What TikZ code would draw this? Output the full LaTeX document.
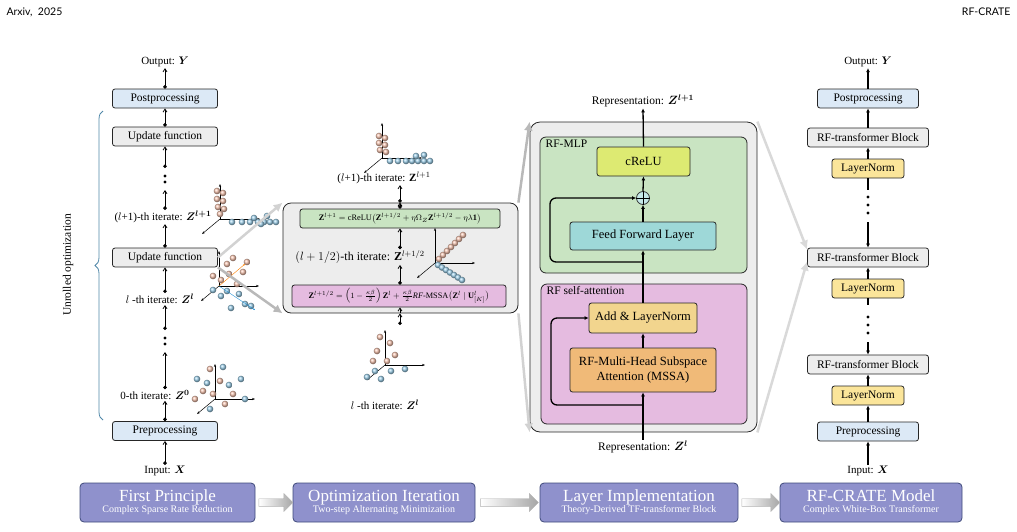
\documentclass[tikz,border=0pt]{standalone}
\usepackage{fontspec}
\usepackage{amsmath,amssymb,bm}
\setmainfont{Liberation Serif}
\newfontfamily\hdr{Lato}
\usetikzlibrary{arrows.meta,calc,decorations.pathreplacing,shapes.arrows,shadings}
\definecolor{bluebox}{HTML}{DCE9F6}
\definecolor{graybox}{HTML}{EDEDED}
\definecolor{greenb}{HTML}{C9E4C2}
\definecolor{pinkb}{HTML}{E5BBE0}
\definecolor{creluc}{HTML}{DDEA72}
\definecolor{ffc}{HTML}{9ED8D8}
\definecolor{addc}{HTML}{F2D58E}
\definecolor{mssac}{HTML}{F0BA78}
\definecolor{lnc}{HTML}{FBE59A}
\definecolor{purp}{HTML}{8F91CC}
\definecolor{purpd}{HTML}{3F4A7A}
\definecolor{orb}{HTML}{F4B49A}
\definecolor{blb}{HTML}{9CCFEA}
\definecolor{bracec}{HTML}{4F87A8}
\tikzset{
 box/.style={draw=black!85,line width=0.8pt,rounded corners=2.5pt,inner sep=0pt,font=\fontsize{11.5}{12}\selectfont},
 lbl/.style={font=\fontsize{11}{12}\selectfont,inner sep=1pt},
 arr/.style={-{Straight Barb[length=3pt,width=4pt]},line width=0.8pt},
 dotarr/.style={{Circle[length=3.5pt]}-{Straight Barb[length=3pt,width=4pt]},line width=0.8pt},
 thk/.style={-{Latex[length=4pt,width=4pt]},line width=1.3pt},
 big/.style={draw=purpd,line width=0.8pt,fill=purp,rounded corners=4pt,text=white,align=center,inner sep=0pt},
 garr/.style={-{Latex[length=9pt,width=9pt]},line width=2.5pt,draw=gray!70},
 fat/.style={single arrow,draw=gray!60,left color=white,right color=gray!70,minimum height=26pt,minimum width=18pt,single arrow head extend=3pt,inner sep=2pt},
}
\newcommand{\myaxes}{%
 \draw[-{Stealth[length=3pt]},line width=0.5pt] (0,0) -- (40,0);
 \draw[-{Stealth[length=3pt]},line width=0.5pt] (0,0) -- (0,-35);
 \draw[-{Stealth[length=3pt]},line width=0.5pt] (0,0) -- (-18,15);}
\newcommand{\ob}[2]{\shade[ball color=orb!80] (#1,#2) circle (3.3);}
\newcommand{\bb}[2]{\shade[ball color=blb] (#1,#2) circle (3.3);}
\begin{document}
\begin{tikzpicture}[x=1pt,y=-1pt]
\useasboundingbox (0,0) rectangle (1017,531);
\node[font=\hdr\fontsize{10.5}{11}\selectfont,anchor=west] (hl) at (3,12) {Arxiv, \ 2025};
\node[font=\hdr\fontsize{10.5}{11}\selectfont,anchor=east] (hr) at (1014,12) {RF-CRATE};

% ---------- left column
\node[lbl] (lout) at (165,62) {Output: $\bm{Y}$};
\node[box,fill=bluebox,minimum width=105,minimum height=19] (lpost) at (165,98.5) {Postprocessing};
\node[box,fill=graybox,minimum width=105,minimum height=19] (lup1) at (165,136.5) {Update function};
\node[lbl] (lit1) at (163,217) {($l$+1)-th iterate: $\bm{Z^{l+1}}$};
\node[box,fill=graybox,minimum width=105,minimum height=19] (lup2) at (165,257.5) {Update function};
\node[lbl] (lit2) at (160,299) {$l$ -th iterate: $\bm{Z^{l}}$};
\node[lbl] (lit0) at (155,395) {0-th iterate: $\bm{Z^{0}}$};
\node[box,fill=bluebox,minimum width=105,minimum height=19] (lpre) at (165,431) {Preprocessing};
\node[lbl] (lin) at (165,471) {Input: $\bm{X}$};
\coordinate (d1a) at (165,168); \coordinate (d1b) at (165,190);
\coordinate (d2a) at (165,330); \coordinate (d2b) at (165,352);
\draw[dotarr] (lpost.north) -- (lout.south);
\draw[dotarr] (lup1.north) -- (lpost.south);
\draw[dotarr] (d1a) -- (lup1.south);
\draw[dotarr] (lit1.north -| d1b) -- (d1b);
\draw[dotarr] (lup2.north) -- (lit1.south -| lup2.north);
\draw[dotarr] (lit2.north -| lup2.south) -- (lup2.south);
\draw[dotarr] (d2a) -- (lit2.south -| d2a);
\draw[dotarr] (lit0.north -| d2b) -- (d2b);
\draw[dotarr] (lpre.north) -- (lpre.north |- lit0.south);
\draw[dotarr] (lin.north) -- (lpre.south);
\foreach \y in {176,182}{\fill (165,\y) circle (1.6);}
\foreach \y in {338,344}{\fill (165,\y) circle (1.6);}
\draw[decorate,decoration={brace,amplitude=8pt},bracec,line width=0.8pt] (103,420) -- (103,111);
\node[lbl,rotate=90,font=\fontsize{11.5}{12}\selectfont] (unr) at (68,265) {Unrolled optimization};
% scatter plots
\begin{scope}[shift={(220,219)}]
 \myaxes
 \foreach \a/\b in {-3/-28,3/-26,-3/-20,3/-18,-2/-12,4/-10,0/-5} {\ob{\a}{\b}}
 \foreach \x in {12,22,30,38,44,50,56} {\bb{\x}{3}} \bb{47}{-3}\bb{41}{5}\bb{34}{-1}
\end{scope}
\begin{scope}[shift={(219,286)}]
 \myaxes
 \ob{10}{-12}\ob{8}{-22}\ob{18}{-2}\ob{24}{-14}\ob{14}{-28}\ob{2}{-6}\ob{-6}{-10}\ob{28}{-24}
 \bb{-6}{4}\bb{8}{5}\bb{20}{8}\bb{26}{18}\bb{12}{22}\bb{32}{20}\bb{2}{10}
 \draw[-{Stealth[length=2pt]},orange,line width=0.4pt] (0,0) -- (26,-22);
 \draw[-{Stealth[length=2pt]},cyan!70!blue,line width=0.4pt] (0,0) -- (36,24);
\end{scope}
\begin{scope}[shift={(215,399)}]
 \myaxes
 \ob{-5}{-30}\ob{5}{-18}\ob{18}{-5}\ob{-2}{-5}\ob{10}{5}\ob{-12}{-8}\ob{-20}{0}
 \bb{-18}{-20}\bb{8}{-32}\bb{-8}{-16}\bb{14}{-14}\bb{26}{-20}\bb{30}{0}\bb{-5}{10}
\end{scope}

% ---------- middle
\node[box,fill=graybox,rounded corners=8pt,minimum width=235,minimum height=110] (mbox) at (400.5,258) {};
\node[box,fill=greenb,minimum width=200,minimum height=19,font=\fontsize{8.3}{9}\selectfont] (meq1) at (400,218.5) {$\mathbf{Z}^{l+1}=\mathrm{cReLU}\big(\mathbf{Z}^{l+1/2}+\eta\Omega_Z\mathbf{Z}^{l+1/2}-\eta\lambda\mathbf{1}\big)$};
\node[box,fill=pinkb,minimum width=214,minimum height=22,font=\fontsize{8.3}{9}\selectfont] (meq2) at (399,296) {$\mathbf{Z}^{l+1/2}=\left(1-\frac{\kappa\beta}{2}\right)\mathbf{Z}^{l}+\frac{\kappa\beta}{2}\mathit{RF}\text{-MSSA}\big(\mathbf{Z}^{l}\mid\mathbf{U}^{l}_{[K]}\big)$};
\node[lbl,font=\fontsize{12}{13}\selectfont] (mhalf) at (360,257) {$(l+1/2)$-th iterate: $\mathbf{Z}^{l+1/2}$};
\node[lbl] (mtop) at (384,178) {($l$+1)-th iterate: $\mathbf{Z}^{l+1}$};
\node[lbl] (mbot) at (385,405) {$l$ -th iterate: $\bm{Z^{l}}$};
\draw[dotarr] (mbox.north -| meq1.north) -- (mtop.south -| meq1.north);
\draw[dotarr] (meq1.north) -- (mbox.north -| meq1.north);
\draw[dotarr] (mhalf.north -| meq1.south) -- (meq1.south);
\draw[dotarr] (meq2.north -| meq1.south) -- (mhalf.south -| meq1.south);
\coordinate (mb1) at (400,325); \draw[dotarr] (mb1) -- (mbox.south -| mb1);
\draw[arr] (mbox.south -| mb1) -- (meq2.south -| mb1);
\begin{scope}[shift={(382,158)}]
 \myaxes
 \foreach \a/\b in {-3/-22,3/-20,-3/-15,3/-13,-2/-8,4/-6} {\ob{\a}{\b}}
 \foreach \x in {8,16,24,30,36,42,48} {\bb{\x}{3}} \bb{42}{-3}\bb{34}{-2}
\end{scope}
\begin{scope}[shift={(435,263)}]
 \myaxes
 \foreach \i in {0,...,6} {\ob{4+4*\i}{-4-4*\i}}
 \foreach \i in {0,...,6} {\bb{3+4*\i}{2+2.5*\i}}
\end{scope}
\begin{scope}[shift={(385,365)}]
 \myaxes
 \ob{-5}{-28}\ob{5}{-22}\ob{-8}{-14}\ob{10}{-10}\ob{2}{-4}\ob{-12}{-4}
 \bb{-10}{6}\bb{6}{6}\bb{20}{4}\bb{-4}{14}\bb{-18}{12}
\end{scope}

% ---------- right-middle block
\node[box,fill=graybox,rounded corners=10pt,minimum width=227,minimum height=310] (rbox) at (643.5,277) {};
\node[box,fill=greenb,rounded corners=6pt,minimum width=207,minimum height=136] (rmlp) at (643.5,205) {};
\node[box,fill=pinkb,rounded corners=6pt,minimum width=206,minimum height=140] (rsa) at (644,354) {};
\node[lbl,anchor=north west,font=\fontsize{11.5}{12}\selectfont] (tmlp) at ($(rmlp.north west)+(2,2)$) {\ RF-MLP};
\node[lbl,anchor=north west,font=\fontsize{11.5}{12}\selectfont] (tsa) at ($(rsa.north west)+(2,2)$) {\ RF self-attention};
\node[box,fill=creluc,minimum width=93,minimum height=29,font=\fontsize{12.5}{13}\selectfont] (crelu) at (643.5,161.5) {cReLU};
\node[circle,draw=black!80,fill=ffc!60,line width=0.8pt,minimum size=13pt,inner sep=0pt] (plus) at (643,198) {};
\draw[line width=0.6pt] (plus.north) -- (plus.south) (plus.west) -- (plus.east);
\node[box,fill=ffc,minimum width=146,minimum height=28,font=\fontsize{12.5}{13}\selectfont] (ffl) at (643,236) {Feed Forward Layer};
\node[box,fill=addc,minimum width=108,minimum height=30,font=\fontsize{12.5}{13}\selectfont] (add) at (643,318) {Add \& LayerNorm};
\node[box,fill=mssac,minimum width=146,minimum height=44,align=center,font=\fontsize{12.5}{15}\selectfont] (mssa) at (643,370) {RF-Multi-Head Subspace\\Attention (MSSA)};
\node[lbl,font=\fontsize{11.5}{12}\selectfont] (rrt) at (643,101) {Representation: $\bm{Z^{l+1}}$};
\node[lbl,font=\fontsize{11.5}{12}\selectfont] (rrb) at (643,447) {Representation: $\bm{Z^{l}}$};
\coordinate (jb) at (643,405); \coordinate (jm) at (643,262);
\draw[thk] (rrb.north) -- (mssa.south);
\draw[thk] (mssa.north) -- (add.south);
\draw[thk] (add.north) -- (ffl.south);
\draw[thk] (ffl.north) -- (plus.south);
\draw[thk] (plus.north) -- (crelu.south);
\draw[thk] (crelu.north) -- (rrt.south);
\draw[thk,rounded corners=6pt] (jb) -- (551,405) -- (551,318) -- (add.west);
\draw[thk,rounded corners=6pt] (jm) -- (550,262) -- (550,198) -- (plus.west);

% ---------- right column
\node[lbl] (rout) at (868,62) {Output: $\bm{Y}$};
\node[box,fill=bluebox,minimum width=101,minimum height=19] (rpost) at (868,98.5) {Postprocessing};
\node[box,fill=graybox,minimum width=121,minimum height=19] (rb1) at (868,137.5) {RF-transformer Block};
\node[box,fill=lnc,minimum width=72,minimum height=19] (ln1) at (868,168.5) {LayerNorm};
\node[box,fill=graybox,minimum width=121,minimum height=19] (rb2) at (868,257.5) {RF-transformer Block};
\node[box,fill=lnc,minimum width=72,minimum height=19] (ln2) at (868,288.5) {LayerNorm};
\node[box,fill=graybox,minimum width=121,minimum height=19] (rb3) at (868,364.5) {RF-transformer Block};
\node[box,fill=lnc,minimum width=72,minimum height=19] (ln3) at (868,395.5) {LayerNorm};
\node[box,fill=bluebox,minimum width=101,minimum height=19] (rpre) at (868,431.5) {Preprocessing};
\node[lbl] (rin) at (868,471) {Input: $\bm{X}$};
\draw[thk] (rin.north) -- (rpre.south);
\draw[thk] (rpre.north) -- (ln3.south);
\draw[thk] (ln3.north) -- (rb3.south);
\coordinate (rd3) at (868,342); \draw[thk] (rd3) -- (rb3.north);
\draw[thk] (ln2.north) -- (rb2.south);
\coordinate (rd2) at (868,222); \draw[thk] (rd2) -- (rb2.north);
\draw[thk] (ln1.north) -- (rb1.south);
\draw[thk] (rb1.north) -- (rpost.south);
\draw[thk] (rpost.north) -- (rout.south);
\draw[line width=1.3pt] (ln2.south) -- (868,305);
\draw[line width=1.3pt] (ln1.south) -- (868,190);
\foreach \y in {197,205,213}{\fill (868,\y) circle (1.6);}
\foreach \y in {317,325,333}{\fill (868,\y) circle (1.6);}

% ---------- big gray connectors
\draw[garr,draw=gray!35] (lup2.east) -- (mbox.north west);
\draw[garr,draw=gray!55] (lup2.south east) -- (mbox.south west);
\draw[garr,draw=gray!55] (mbox.north east) -- (rbox.north west);
\draw[garr,draw=gray!35] (mbox.south east) -- (rbox.south west);
\draw[garr,draw=gray!30] (rbox.north east) -- ($(rb2.west)+(0,-8)$);
\draw[garr,draw=gray!30] (rbox.south east) -- ($(rb2.west)+(0,4)$);

% ---------- bottom
\node[big,minimum width=175,minimum height=39] (b1) at (167.5,502.5) {{\fontsize{17}{18}\selectfont First Principle}\\[-1pt]{\fontsize{10}{11}\selectfont Complex Sparse Rate Reduction}};
\node[big,minimum width=182,minimum height=39] (b2) at (384,502.5) {{\fontsize{17}{18}\selectfont Optimization Iteration}\\[-1pt]{\fontsize{10}{11}\selectfont Two-step Alternating Minimization}};
\node[big,minimum width=198,minimum height=39] (b3) at (639,502.5) {{\fontsize{17}{18}\selectfont Layer Implementation}\\[-1pt]{\fontsize{10}{11}\selectfont Theory-Derived TF-transformer Block}};
\node[big,minimum width=182,minimum height=39] (b4) at (871,502.5) {{\fontsize{17}{18}\selectfont RF-CRATE Model}\\[-1pt]{\fontsize{10}{11}\selectfont Complex White-Box Transformer}};
\node[fat,minimum height=34] (a1) at ($(b1.east)!0.5!(b2.west)$) {};
\node[fat,minimum height=58] (a2) at ($(b2.east)!0.5!(b3.west)$) {};
\node[fat,minimum height=38] (a3) at ($(b3.east)!0.5!(b4.west)$) {};
\end{tikzpicture}
\end{document}
